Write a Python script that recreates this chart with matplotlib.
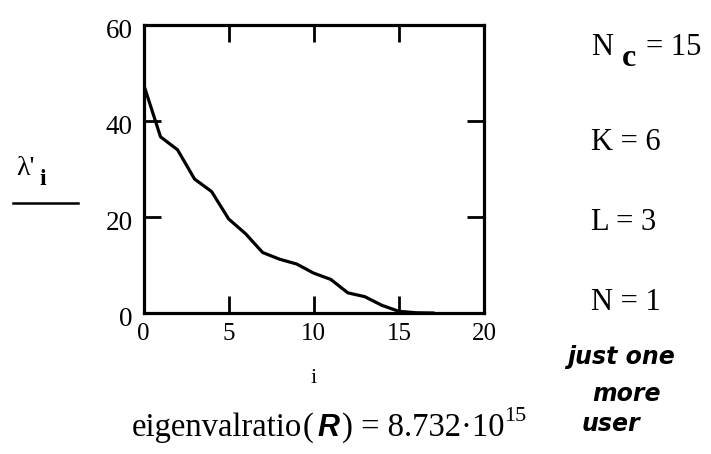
import matplotlib
matplotlib.use("Agg")
import matplotlib.pyplot as plt
import matplotlib.transforms as mtransforms

# data
idx = list(range(18))
lam = [47.7, 36.7, 34.0, 27.9, 25.3, 19.6, 16.5, 12.6, 11.2, 10.2, 8.3, 7.0,
       4.2, 3.4, 1.6, 0.35, 0.05, 0.0]
x_ticks = [0, 5, 10, 15, 20]
y_ticks = [0, 20, 40, 60]

W, H = 711, 454
fig = plt.figure(figsize=(W / 100, H / 100), dpi=100)
serif = "Liberation Serif"

def fx(px):
    return px / W

def fy(py):
    return 1 - py / H

ax = fig.add_axes([fx(143.5), fy(313), (484 - 143.5) / W, (313 - 25) / H])
ax.plot(idx, lam, color="black", lw=2.3, solid_joinstyle="round")
ax.set_xlim(0, 20)
ax.set_ylim(0, 60)
ax.set_xticks(x_ticks)
ax.set_yticks(y_ticks)
for s in ax.spines.values():
    s.set_linewidth(2.3)
ax.tick_params(direction="in", length=12, width=2, top=True, right=True)
ax.tick_params(axis="x", labelsize=18, pad=7)
ax.tick_params(axis="y", labelsize=19.5, pad=8)
for lab in ax.get_xticklabels() + ax.get_yticklabels():
    lab.set_fontfamily(serif)
off = mtransforms.ScaledTranslation(0, -4 / 100, fig.dpi_scale_trans)
for lab in ax.get_yticklabels():
    lab.set_transform(lab.get_transform() + off)

# y label lambda'_i with underline
fig.text(fx(16), fy(175), "λ'", fontsize=20, family=serif, ha="left", va="baseline")
fig.text(fx(39), fy(185), "i", fontsize=17, family=serif, weight="bold",
         ha="left", va="baseline")
fig.add_artist(plt.Line2D([fx(13), fx(78)], [fy(203), fy(203)], color="black", lw=1.8))

# x label
fig.text(fx(314), fy(383), "i", fontsize=16, family=serif, ha="center", va="baseline")

# right side annotations
rs = dict(fontsize=22, family=serif, ha="left", va="baseline")
fig.text(fx(591), fy(55), "N", **rs)
fig.text(fx(622), fy(66), "c", fontsize=23, family=serif, weight="bold",
         ha="left", va="baseline")
fig.text(fx(646), fy(55), "= 15", **rs)
fig.text(fx(591), fy(150), "K = 6", **rs)
fig.text(fx(591), fy(230), "L = 3", **rs)
fig.text(fx(591), fy(310), "N = 1", **rs)

# handwritten note
hand = dict(fontsize=17, family="DejaVu Sans", style="italic", weight="bold",
            ha="left", va="baseline")
fig.text(fx(567), fy(364), "just one", **hand)
fig.text(fx(592), fy(401), "more", **hand)
fig.text(fx(582), fy(431), "user", **hand)

# bottom formula built from pieces
fig.canvas.draw()
renderer = fig.canvas.get_renderer()
pieces = [
    ("eigenvalratio", dict(family=serif, fontsize=23.5), 0, 0),
    ("(", dict(family=serif, fontsize=23.5), 0, 4),
    ("R", dict(family="Liberation Sans", fontsize=22, weight="bold", style="italic"), 0, 3),
    (")", dict(family=serif, fontsize=23.5), 0, 0),
    (" = 8.732·10", dict(family=serif, fontsize=23.5), 0, 0),
    ("15", dict(family=serif, fontsize=16), 15, 0),
]
x = 132
base = 436
for txt, kw, dy, gap in pieces:
    t = fig.text(fx(x), fy(base - dy), txt, ha="left", va="baseline", **kw)
    bb = t.get_window_extent(renderer)
    x += bb.width + gap

fig.savefig("out.png", dpi=100)
